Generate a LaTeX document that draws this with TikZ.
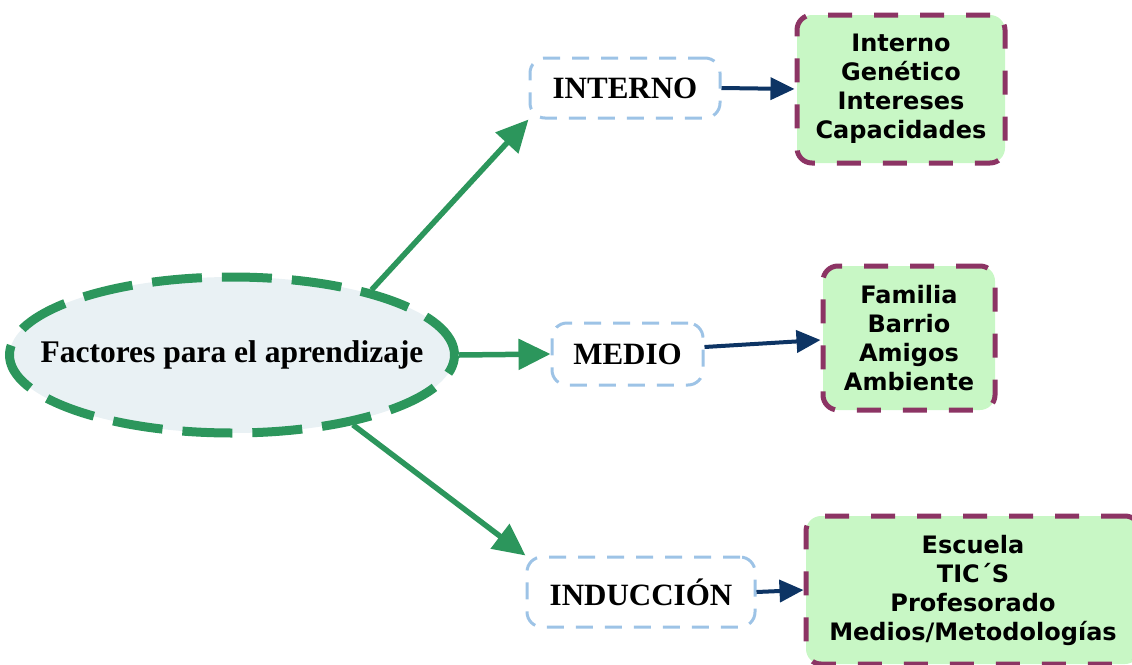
\documentclass[tikz,border=0pt]{standalone}
\usepackage{fontspec}
\setmainfont{Liberation Serif}
\newfontfamily\boxfont{DejaVu Sans}
\usetikzlibrary{shapes.geometric,arrows.meta}

\definecolor{linkgreen}{RGB}{44,150,92}
\definecolor{ovalfill}{RGB}{233,241,244}
\definecolor{listfill}{RGB}{200,247,197}
\definecolor{listedge}{RGB}{140,52,100}
\definecolor{tagedge}{RGB}{157,195,230}
\definecolor{navy}{RGB}{13,52,100}

\tikzset{
  root/.style={ellipse, draw=linkgreen, fill=ovalfill, line width=9pt,
    dash pattern=on 50pt off 20pt, inner sep=0pt,
    minimum width=445pt, minimum height=156pt,
    font=\fontsize{31.5}{36}\selectfont\bfseries},
  tag/.style={rectangle, rounded corners=15pt, draw=tagedge, line width=3pt,
    dash pattern=on 17pt off 12pt, inner sep=0pt,
    font=\fontsize{31}{36}\selectfont\bfseries},
  listbox/.style={rectangle, rounded corners=15pt, draw=listedge, fill=listfill,
    line width=5pt, dash pattern=on 24pt off 22pt, inner sep=0pt,
    align=center, font=\boxfont\fontsize{24}{29}\selectfont\bfseries},
  branch/.style={draw=linkgreen, line width=5.5pt,
    -{Triangle[length=32pt,width=30pt]}},
  feed/.style={draw=navy, line width=4pt,
    -{Triangle[length=24pt,width=22pt]}}
}

\begin{document}
\begin{tikzpicture}[x=1pt,y=-1pt]
\useasboundingbox (0,0) rectangle (1132,664);
\clip (0,0) rectangle (1132,664);

% central idea (zero-width text box so the oval keeps its set size)
\node[root] (fac) at (232,355) {\makebox[0pt]{Factores para el aprendizaje}};

% the three kinds of factor
\node[tag, minimum width=190pt, minimum height=60pt] (int) at (625,88) {INTERNO};
\node[tag, minimum width=151pt, minimum height=62pt] (med) at (627.5,354) {MEDIO};
\node[tag, minimum width=228pt, minimum height=70pt] (ind) at (641,592) {INDUCCIÓN};

% what each one covers
\node[listbox, minimum width=208pt, minimum height=148pt] (lint) at (901,89)
  {Interno\\Genético\\Intereses\\Capacidades};
\node[listbox, minimum width=172pt, minimum height=144pt] (lmed) at (909,338)
  {Familia\\Barrio\\Amigos\\Ambiente};
\node[listbox, minimum width=334pt, minimum height=148pt] (lind) at (973,590)
  {Escuela\\TIC´S\\Profesorado\\Medios/Metodologías};

% branches from the central idea
\draw[branch] (fac.25) -- (int.south west);
\draw[branch] (fac.east) -- (med.west);
\draw[branch] (fac.-30) -- (ind.north west);

% links to the lists
\draw[feed] (int.east) -- (lint.west);
\draw[feed] ([yshift=7pt]med.east) -- ([yshift=-2pt]lmed.west);
\draw[feed] (ind.east) -- (lind.west);
\end{tikzpicture}
\end{document}
